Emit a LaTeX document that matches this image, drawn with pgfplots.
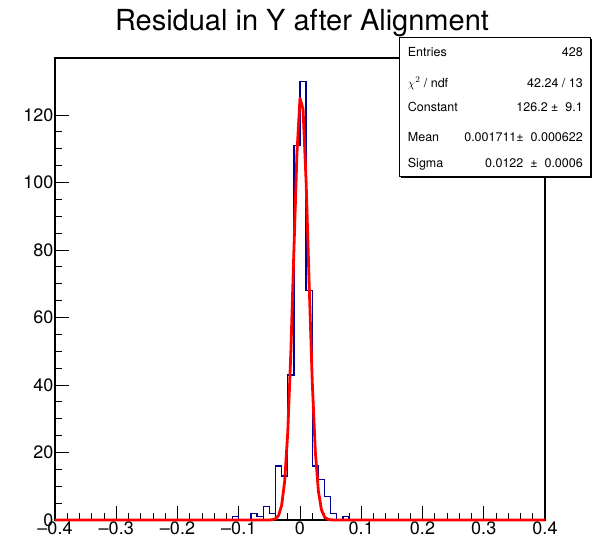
\documentclass[border=0pt]{standalone}
\usepackage{fontspec}
\setmainfont{TeX Gyre Heros}
\usepackage{pgfplots}
\pgfplotsset{compat=1.18}

\definecolor{roothist}{RGB}{0,0,153}

\begin{document}
\begin{tikzpicture}[x=1pt,y=1pt]
\path[use as bounding box] (-55,-22) rectangle (541,520);
\begin{axis}[
  at={(0,0)}, anchor=south west,
  scale only axis, width=490pt, height=462pt,
  xmin=-0.4, xmax=0.4, ymin=0, ymax=136.9,
  clip=false,
  axis line style={line width=1.1pt},
  tick align=inside,
  xtick pos=bottom, ytick pos=left,
  xtick={-0.4,-0.3,-0.2,-0.1,0,0.1,0.2,0.3,0.4},
  xticklabels={--0.4,--0.3,--0.2,--0.1,0,0.1,0.2,0.3,0.4},
  ytick={0,20,40,60,80,100,120},
  minor x tick num=4, minor y tick num=3,
  major tick length=14pt, minor tick length=7pt,
  tick style={line width=0.9pt,black},
  /pgf/number format/assume math mode=true,
  ticklabel style={font=\fontsize{18}{20}\selectfont, inner sep=1.5pt},
]
% histogram, bin width 0.01 (left edges)
\addplot[const plot mark left, roothist, line width=1.3pt] coordinates {
  (-0.4,0) (-0.11,1) (-0.10,0) (-0.08,2) (-0.07,1) (-0.06,4) (-0.05,2)
  (-0.04,16) (-0.03,13) (-0.02,43) (-0.01,111) (0.00,130) (0.01,68)
  (0.02,16) (0.03,12) (0.04,7) (0.05,2) (0.06,0) (0.07,1) (0.08,0) (0.4,0)
};
% gaussian fit, sampled values
\addplot[red, line width=2.8pt, line join=round] coordinates {
  (-0.4,0) (-0.06,0) (-0.050,0.015) (-0.045,0.08) (-0.040,0.37) (-0.035,1.36)
  (-0.030,4.30) (-0.025,11.5) (-0.020,25.9) (-0.015,49.4) (-0.010,79.6)
  (-0.005,108.5) (0.000,125.0) (0.005,121.7) (0.010,100.2) (0.015,69.7)
  (0.020,41.0) (0.025,20.4) (0.030,8.58) (0.035,3.05) (0.040,0.92)
  (0.045,0.23) (0.050,0.05) (0.06,0) (0.4,0)
};
\end{axis}
\node[anchor=base, font=\fontsize{29}{32}\selectfont] at (247,489) {Residual in Y after Alignment};
% stats box
\fill[black] (345.5,342) rectangle (536.5,481);
\draw[line width=0.9pt, fill=white] (344,343.3) rectangle (535,482.3);
\begin{scope}[every node/.style={font=\fontsize{12.5}{14}\selectfont, inner sep=0pt}]
\node[anchor=base west] at (352.7,463.8) {Entries};
\node[anchor=base east] at (528,463.8) {428};
\node[anchor=base west] at (352.7,432.8) {$\chi^{2}$ / ndf};
\node[anchor=base east] at (528,432.8) {42.24 / 13};
\node[anchor=base west] at (352.7,408.2) {Constant};
\node[anchor=base east] at (528,408.2) {126.2 ± \ 9.1};
\node[anchor=base west] at (352.7,378.8) {Mean};
\node[anchor=base east] at (528,378.8) {0.001711± \ 0.000622};
\node[anchor=base west] at (352.7,352.8) {Sigma};
\node[anchor=base east] at (528,352.8) {0.0122 \ ± \ 0.0006};
\end{scope}
\end{tikzpicture}
\end{document}
